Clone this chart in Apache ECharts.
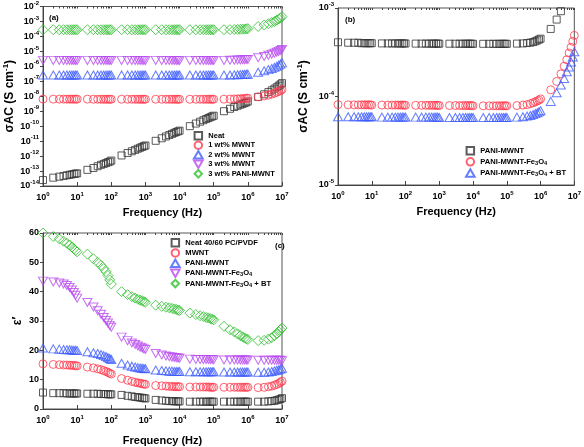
<!DOCTYPE html>
<html><head><meta charset="utf-8">
<script src="https://cdn.jsdelivr.net/npm/echarts@6/dist/echarts.min.js"></script>
<style>html,body{margin:0;padding:0;background:#fff}#c{width:584px;height:447px}</style>
</head><body><div id="c"></div>
<script>
// Frequencies (Hz)
const F = [1,2,3,4,5,6,7,8,9,
 1e1,2e1,3e1,4e1,5e1,6e1,7e1,8e1,9e1,
 1e2,2e2,3e2,4e2,5e2,6e2,7e2,8e2,9e2,
 1e3,2e3,3e3,4e3,5e3,6e3,7e3,8e3,9e3,
 1e4,2e4,3e4,4e4,5e4,6e4,7e4,8e4,9e4,
 1e5,2e5,3e5,4e5,5e5,6e5,7e5,8e5,9e5,
 1e6,2e6,3e6,4e6,5e6,6e6,7e6,8e6,9e6,
 1e7];
const xTicks = [1,1e1,1e2,1e3,1e4,1e5,1e6,1e7];
const yTicksA = [1e-14,1e-13,1e-12,1e-11,1e-10,1e-9,1e-8,1e-7,1e-6,1e-5,1e-4,1e-3,1e-2];
const yTicksB = [1e-5,1e-4,1e-3];

// Panel (a): sigma_AC (S/cm)
const namesA = ['Neat','1 wt% MWNT','2 wt% MWNT','3 wt% MWNT','3 wt% PANI-MWNT'];
const neatA = [2.5e-14,3.6e-14,4.2e-14,4.7e-14,5.2e-14,5.6e-14,6.0e-14,6.4e-14,6.7e-14,
 7.0e-14,1.2e-13,1.6e-13,2.1e-13,2.6e-13,3.0e-13,3.4e-13,3.9e-13,4.3e-13,
 5.0e-13,1.1e-12,1.6e-12,2.1e-12,2.6e-12,3.1e-12,3.6e-12,4.1e-12,4.6e-12,
 5.1e-12,1.05e-11,1.55e-11,2.05e-11,2.55e-11,3.05e-11,3.55e-11,4.05e-11,4.5e-11,
 5.0e-11,1.0e-10,1.5e-10,2.0e-10,2.5e-10,3.0e-10,3.5e-10,4.0e-10,4.5e-10,
 5.0e-10,1.0e-9,1.45e-9,1.9e-9,2.3e-9,2.7e-9,3.1e-9,3.5e-9,3.9e-9,
 4.5e-9,9.0e-9,1.35e-8,1.9e-8,2.5e-8,3.2e-8,4.0e-8,5.0e-8,6.2e-8,
 7.5e-8];
const mw1A = [6.5e-9,6.4e-9,6.4e-9,6.4e-9,6.4e-9,6.4e-9,6.4e-9,6.4e-9,6.4e-9,
 6.4e-9,6.4e-9,6.3e-9,6.3e-9,6.3e-9,6.3e-9,6.3e-9,6.3e-9,6.3e-9,
 6.3e-9,6.3e-9,6.3e-9,6.3e-9,6.3e-9,6.3e-9,6.3e-9,6.3e-9,6.3e-9,
 6.3e-9,6.3e-9,6.3e-9,6.3e-9,6.3e-9,6.3e-9,6.3e-9,6.3e-9,6.3e-9,
 6.3e-9,6.3e-9,6.3e-9,6.3e-9,6.3e-9,6.3e-9,6.3e-9,6.3e-9,6.3e-9,
 6.3e-9,6.4e-9,6.5e-9,6.6e-9,6.7e-9,6.8e-9,6.9e-9,7.1e-9,7.3e-9,
 7.5e-9,9.2e-9,1.05e-8,1.2e-8,1.4e-8,1.6e-8,1.85e-8,2.1e-8,2.4e-8,
 2.8e-8];
const mw2A = [2.6e-7,2.6e-7,2.6e-7,2.6e-7,2.6e-7,2.6e-7,2.6e-7,2.6e-7,2.6e-7,
 2.6e-7,2.6e-7,2.6e-7,2.6e-7,2.6e-7,2.6e-7,2.6e-7,2.6e-7,2.6e-7,
 2.6e-7,2.6e-7,2.6e-7,2.6e-7,2.6e-7,2.6e-7,2.6e-7,2.6e-7,2.6e-7,
 2.6e-7,2.6e-7,2.6e-7,2.6e-7,2.6e-7,2.6e-7,2.6e-7,2.6e-7,2.6e-7,
 2.6e-7,2.6e-7,2.6e-7,2.6e-7,2.6e-7,2.6e-7,2.6e-7,2.6e-7,2.6e-7,
 2.6e-7,2.6e-7,2.65e-7,2.7e-7,2.75e-7,2.8e-7,2.85e-7,2.9e-7,2.95e-7,
 3.0e-7,4.0e-7,5.0e-7,6.0e-7,7.2e-7,8.5e-7,1.0e-6,1.2e-6,1.4e-6,
 1.7e-6];
const mw3A = [2.5e-6,2.5e-6,2.5e-6,2.5e-6,2.5e-6,2.5e-6,2.5e-6,2.5e-6,2.5e-6,
 2.5e-6,2.5e-6,2.5e-6,2.5e-6,2.5e-6,2.5e-6,2.5e-6,2.5e-6,2.5e-6,
 2.5e-6,2.5e-6,2.5e-6,2.5e-6,2.5e-6,2.5e-6,2.5e-6,2.5e-6,2.5e-6,
 2.5e-6,2.5e-6,2.5e-6,2.5e-6,2.5e-6,2.5e-6,2.5e-6,2.5e-6,2.5e-6,
 2.5e-6,2.5e-6,2.5e-6,2.5e-6,2.5e-6,2.5e-6,2.5e-6,2.5e-6,2.5e-6,
 2.5e-6,2.5e-6,2.55e-6,2.6e-6,2.65e-6,2.7e-6,2.75e-6,2.8e-6,2.85e-6,
 2.9e-6,3.8e-6,4.6e-6,5.5e-6,6.5e-6,7.6e-6,8.8e-6,1.0e-5,1.15e-5,
 1.35e-5];
const pmA = [2.8e-4,2.8e-4,2.8e-4,2.8e-4,2.8e-4,2.8e-4,2.8e-4,2.8e-4,2.8e-4,
 2.8e-4,2.8e-4,2.8e-4,2.8e-4,2.8e-4,2.8e-4,2.8e-4,2.8e-4,2.8e-4,
 2.8e-4,2.8e-4,2.8e-4,2.8e-4,2.8e-4,2.8e-4,2.8e-4,2.8e-4,2.8e-4,
 2.8e-4,2.8e-4,2.8e-4,2.8e-4,2.8e-4,2.8e-4,2.8e-4,2.8e-4,2.8e-4,
 2.8e-4,2.8e-4,2.8e-4,2.8e-4,2.8e-4,2.8e-4,2.8e-4,2.8e-4,2.8e-4,
 2.8e-4,2.8e-4,2.85e-4,2.9e-4,2.95e-4,3.0e-4,3.05e-4,3.1e-4,3.2e-4,
 3.3e-4,4.6e-4,5.8e-4,7.0e-4,8.5e-4,1.0e-3,1.2e-3,1.45e-3,1.7e-3,
 2.1e-3];

// Panel (b): sigma_AC (S/cm)
const namesB = ['PANI-MWNT','PANI-MWNT-Fe3O4','PANI-MWNT-Fe3O4 + BT'];
const pmB = [4.1e-4,4.05e-4,4.05e-4,4.05e-4,4.0e-4,4.0e-4,4.0e-4,4.0e-4,4.0e-4,
 4.0e-4,3.98e-4,3.98e-4,3.98e-4,3.98e-4,3.98e-4,3.98e-4,3.98e-4,3.98e-4,
 3.97e-4,3.96e-4,3.96e-4,3.96e-4,3.96e-4,3.96e-4,3.96e-4,3.96e-4,3.96e-4,
 3.95e-4,3.95e-4,3.95e-4,3.95e-4,3.95e-4,3.95e-4,3.95e-4,3.95e-4,3.95e-4,
 3.94e-4,3.94e-4,3.94e-4,3.94e-4,3.94e-4,3.94e-4,3.94e-4,3.94e-4,3.94e-4,
 3.94e-4,3.96e-4,3.98e-4,4.02e-4,4.06e-4,4.12e-4,4.2e-4,4.3e-4,4.4e-4,
 4.5e-4,5.8e-4,7.4e-4,9.2e-4];
const pfB = [8.1e-5,8.05e-5,8.05e-5,8.05e-5,8.05e-5,8.05e-5,8.05e-5,8.05e-5,8.05e-5,
 8.0e-5,8.0e-5,8.0e-5,8.0e-5,8.0e-5,8.0e-5,8.0e-5,8.0e-5,8.0e-5,
 7.95e-5,7.95e-5,7.95e-5,7.95e-5,7.95e-5,7.95e-5,7.95e-5,7.95e-5,7.95e-5,
 7.9e-5,7.9e-5,7.9e-5,7.9e-5,7.9e-5,7.9e-5,7.9e-5,7.9e-5,7.9e-5,
 7.85e-5,7.85e-5,7.85e-5,7.85e-5,7.85e-5,7.85e-5,7.85e-5,7.85e-5,7.85e-5,
 7.85e-5,7.9e-5,8.0e-5,8.1e-5,8.3e-5,8.5e-5,8.7e-5,8.9e-5,9.1e-5,
 9.4e-5,1.19e-4,1.48e-4,1.8e-4,2.2e-4,2.6e-4,3.1e-4,3.6e-4,4.2e-4,
 4.9e-4];
const pfbB = [5.9e-5,5.9e-5,5.9e-5,5.9e-5,5.9e-5,5.9e-5,5.9e-5,5.9e-5,5.9e-5,
 5.9e-5,5.85e-5,5.85e-5,5.85e-5,5.85e-5,5.85e-5,5.85e-5,5.85e-5,5.85e-5,
 5.85e-5,5.85e-5,5.85e-5,5.85e-5,5.85e-5,5.85e-5,5.85e-5,5.85e-5,5.85e-5,
 5.8e-5,5.8e-5,5.8e-5,5.8e-5,5.8e-5,5.8e-5,5.8e-5,5.8e-5,5.8e-5,
 5.8e-5,5.8e-5,5.8e-5,5.8e-5,5.8e-5,5.8e-5,5.8e-5,5.8e-5,5.8e-5,
 5.8e-5,5.85e-5,5.9e-5,6.0e-5,6.1e-5,6.25e-5,6.4e-5,6.55e-5,6.7e-5,
 6.9e-5,8.8e-5,1.1e-4,1.35e-4,1.6e-4,1.9e-4,2.15e-4,2.45e-4,2.8e-4,
 3.2e-4];

// Panel (c): epsilon'
const namesC = ['Neat 40/60 PC/PVDF','MWNT','PANI-MWNT','PANI-MWNT-Fe3O4','PANI-MWNT-Fe3O4 + BT'];
const neatC = [5.6,5.4,5.4,5.4,5.3,5.3,5.3,5.3,5.3,
 5.3,5.2,5.2,5.2,5.1,5.1,5.1,5.0,5.0,
 5.0,4.8,4.5,4.3,4.1,4.0,3.9,3.8,3.7,
 3.6,3.1,2.9,2.8,2.7,2.7,2.6,2.6,2.6,
 2.6,2.5,2.5,2.5,2.5,2.5,2.5,2.5,2.5,
 2.5,2.5,2.5,2.5,2.5,2.5,2.5,2.5,2.5,
 2.5,2.5,2.5,2.6,2.7,2.8,3.0,3.2,3.4,
 3.7];
const mwC = [15.4,15.2,15.1,15.0,15.0,14.9,14.9,14.8,14.8,
 14.7,14.3,14.0,13.7,13.4,13.1,12.8,12.5,12.2,
 11.9,10.4,9.8,9.4,9.1,8.9,8.8,8.6,8.5,
 8.4,8.0,7.9,7.8,7.7,7.7,7.6,7.6,7.6,
 7.6,7.5,7.5,7.5,7.5,7.5,7.5,7.4,7.4,
 7.4,7.4,7.4,7.4,7.4,7.4,7.4,7.4,7.4,
 7.4,7.3,7.4,7.6,7.8,8.1,8.4,8.7,9.1,
 9.5];
const pmC = [20.8,20.5,20.4,20.3,20.2,20.2,20.1,20.0,20.0,
 19.9,19.5,19.2,18.9,18.6,18.2,17.9,17.5,17.2,
 16.9,15.6,15.0,14.6,14.3,14.1,14.0,13.9,13.8,
 13.7,13.3,13.1,13.0,12.9,12.9,12.8,12.8,12.8,
 12.8,12.7,12.7,12.7,12.7,12.7,12.7,12.7,12.7,
 12.7,12.6,12.6,12.6,12.6,12.6,12.6,12.6,12.6,
 12.6,12.5,12.5,12.6,12.8,13.0,13.2,13.4,13.6,
 13.9];
const pfC = [43.6,43.3,43.0,42.6,42.1,41.4,40.6,39.7,38.8,
 37.8,36.3,34.8,33.5,32.3,31.2,30.2,29.3,28.5,
 27.9,24.5,23.3,22.5,22.0,21.5,21.1,20.8,20.5,
 20.3,18.9,18.4,18.1,17.8,17.7,17.6,17.5,17.4,
 17.3,17.0,16.9,16.9,16.9,16.9,16.9,16.9,16.9,
 16.8,16.7,16.7,16.7,16.7,16.7,16.7,16.7,16.7,
 16.7,16.6,16.6,16.6,16.6,16.6,16.6,16.6,16.6,
 16.5];
const pfbC = [60.0,58.8,58.0,57.2,56.5,55.9,55.2,54.6,54.0,
 53.6,52.8,51.2,50.0,49.0,47.9,46.8,45.5,44.0,
 42.6,40.0,39.0,38.3,37.8,37.4,37.1,36.9,36.6,
 36.4,35.4,35.0,34.7,34.5,34.3,34.1,33.9,33.7,
 33.6,32.7,32.2,31.8,31.5,31.2,31.0,30.8,30.6,
 30.4,28.2,27.0,26.3,25.6,25.0,24.6,24.2,23.9,
 23.7,23.3,23.4,23.8,24.3,25.0,25.6,26.3,27.0,
 27.6];

const FONT = 'Liberation Sans, Arial, sans-serif';
const COL = {k:'#333333', r:'#ff3b4e', b:'#3f5cff', p:'#b84bf0', g:'#2fbf2f'};
const SYM = {
  sq: 'path://M0,0L10,0L10,10L0,10Z',
  up: 'path://M5,0L10,8.66L0,8.66Z',
  dn: 'path://M0,0L10,0L5,8.66Z',
  di: 'path://M5,0L10,5L5,10L0,5Z',
  ci: 'circle'
};
const SIZE = {sq:7, up:[9,8], dn:[9,8], di:10, ci:8};

const gridsPos = [
  {left:43, top:5, width:239, height:181},
  {left:338, top:8, width:238, height:177},
  {left:43, top:233, width:239, height:177}
];
const supRich = {
  b:{fontFamily:FONT, fontWeight:'bold', fontSize:9, color:'#000'},
  s:{fontFamily:FONT, fontWeight:'bold', fontSize:6, color:'#000', padding:[0,0,7,0]}
};
const logFmt = v => '{b|10}{s|' + Math.round(Math.log10(v)) + '}';

function xAxes(gi, gap){
  return [{
    type:'log', gridIndex:gi, min:1, max:1e7, logBase:10,
    axisLine:{lineStyle:{color:'#444', width:1}},
    axisTick:{inside:true, length:4, customValues:xTicks, lineStyle:{color:'#444'}},
    axisLabel:{customValues:xTicks, formatter:logFmt, rich:supRich, margin:5},
    splitLine:{show:false},
    name:'Frequency (Hz)', nameLocation:'middle', nameGap:gap,
    nameTextStyle:{fontFamily:FONT, fontWeight:'bold', fontSize:11, color:'#000'}
  },{
    type:'log', gridIndex:gi, min:1, max:1e7, logBase:10,
    axisLine:{show:false},
    axisTick:{inside:true, length:2, customValues:F, lineStyle:{color:'#444'}},
    axisLabel:{show:false}, splitLine:{show:false}
  }];
}
const yNameSigma = '{t|σAC (S cm}{u|-1}{t|)}';
const yNameRich = {
  t:{fontFamily:FONT, fontWeight:'bold', fontSize:12, color:'#000'},
  u:{fontFamily:FONT, fontWeight:'bold', fontSize:8, color:'#000', padding:[0,0,8,0]}
};

// internal keys keep legend names unique per panel; the tag after '@' is hidden
const key = (n, p) => n + '@' + p;
function mkSeries(name, xi, yi, vals, col, sym){
  return {
    type:'scatter', name:name, xAxisIndex:xi, yAxisIndex:yi,
    data: vals.map((v,i)=>[F[i], v]),
    symbol: SYM[sym], symbolSize: SIZE[sym],
    itemStyle:{color:'rgba(255,255,255,0)', borderColor:col, borderWidth:1},
    clip:true, silent:true
  };
}

const series = [
  mkSeries(key(namesA[0],'a'),0,0,neatA,COL.k,'sq'),
  mkSeries(key(namesA[1],'a'),0,0,mw1A,COL.r,'ci'),
  mkSeries(key(namesA[2],'a'),0,0,mw2A,COL.b,'up'),
  mkSeries(key(namesA[3],'a'),0,0,mw3A,COL.p,'dn'),
  mkSeries(key(namesA[4],'a'),0,0,pmA,COL.g,'di'),
  mkSeries(key(namesB[0],'b'),2,1,pmB,COL.k,'sq'),
  mkSeries(key(namesB[1],'b'),2,1,pfB,COL.r,'ci'),
  mkSeries(key(namesB[2],'b'),2,1,pfbB,COL.b,'up'),
  mkSeries(key(namesC[0],'c'),4,2,neatC,COL.k,'sq'),
  mkSeries(key(namesC[1],'c'),4,2,mwC,COL.r,'ci'),
  mkSeries(key(namesC[2],'c'),4,2,pmC,COL.b,'up'),
  mkSeries(key(namesC[3],'c'),4,2,pfC,COL.p,'dn'),
  mkSeries(key(namesC[4],'c'),4,2,pfbC,COL.g,'di')
];

const legFmt = n => n.split('@')[0].replace('Fe3O4','Fe{d|3}O{d|4}');
function legend(names, p, left, top, gap, sz){
  return {
    data: names.map(n=>key(n,p)), orient:'vertical', left:left, top:top, itemGap:gap,
    itemWidth:10, itemHeight:7.5, padding:0, selectedMode:false,
    formatter: legFmt,
    textStyle:{fontFamily:FONT, fontWeight:'bold', fontSize:sz, color:'#000', lineHeight:8,
      rich:{d:{fontFamily:FONT, fontWeight:'bold', fontSize:sz*0.75, color:'#000', lineHeight:8, padding:[3,0,0,0]}}}
  };
}

const option = {
  animation:false,
  backgroundColor:'#fff',
  title:[
    {text:'(a)', left:44, top:9, textStyle:{fontFamily:FONT, fontWeight:'bold', fontSize:8, color:'#000'}},
    {text:'(b)', left:340, top:11, textStyle:{fontFamily:FONT, fontWeight:'bold', fontSize:8, color:'#000'}},
    {text:'(c)', left:270, top:237, textStyle:{fontFamily:FONT, fontWeight:'bold', fontSize:8, color:'#000'}}
  ],
  grid: gridsPos.map(g=>Object.assign({show:true, borderColor:'#555', borderWidth:1, backgroundColor:'rgba(0,0,0,0)'}, g)),
  xAxis: [].concat(xAxes(0, 21), xAxes(1, 21), xAxes(2, 26)),
  yAxis: [
    {type:'log', gridIndex:0, min:1e-14, max:1e-2, logBase:10,
     axisLine:{show:true, lineStyle:{color:'#444'}},
     axisTick:{show:true, length:3, customValues:yTicksA, lineStyle:{color:'#444'}},
     axisLabel:{customValues:yTicksA, formatter:logFmt, rich:supRich, margin:4},
     splitLine:{show:false},
     name:yNameSigma, nameLocation:'middle', nameGap:25, nameTextStyle:{rich:yNameRich}},
    {type:'log', gridIndex:1, min:1e-5, max:1e-3, logBase:10,
     axisLine:{show:true, lineStyle:{color:'#444'}},
     axisTick:{show:true, length:3, customValues:yTicksB, lineStyle:{color:'#444'}},
     axisLabel:{customValues:yTicksB, formatter:logFmt, rich:supRich, margin:4},
     splitLine:{show:false},
     name:yNameSigma, nameLocation:'middle', nameGap:26, nameTextStyle:{rich:yNameRich}},
    {type:'value', gridIndex:2, min:0, max:60, interval:10,
     axisLine:{show:true, lineStyle:{color:'#444'}},
     axisTick:{show:true, length:3, lineStyle:{color:'#444'}},
     axisLabel:{fontFamily:FONT, fontWeight:'bold', fontSize:9, color:'#000', margin:4},
     splitLine:{show:false},
     name:'ε′', nameLocation:'middle', nameGap:19,
     nameTextStyle:{fontFamily:FONT, fontWeight:'bold', fontSize:12, color:'#000'}}
  ],
  legend: [
    legend(namesA, 'a', 193, 131, 0, 7.5),
    legend(namesB, 'b', 465, 146, 1.6, 7.6),
    legend(namesC, 'c', 170, 238, 0.7, 7.6)
  ],
  series: series
};
const chart = echarts.init(document.getElementById('c'), null, {renderer:'canvas'});
chart.setOption(option);
</script>
</body></html>
